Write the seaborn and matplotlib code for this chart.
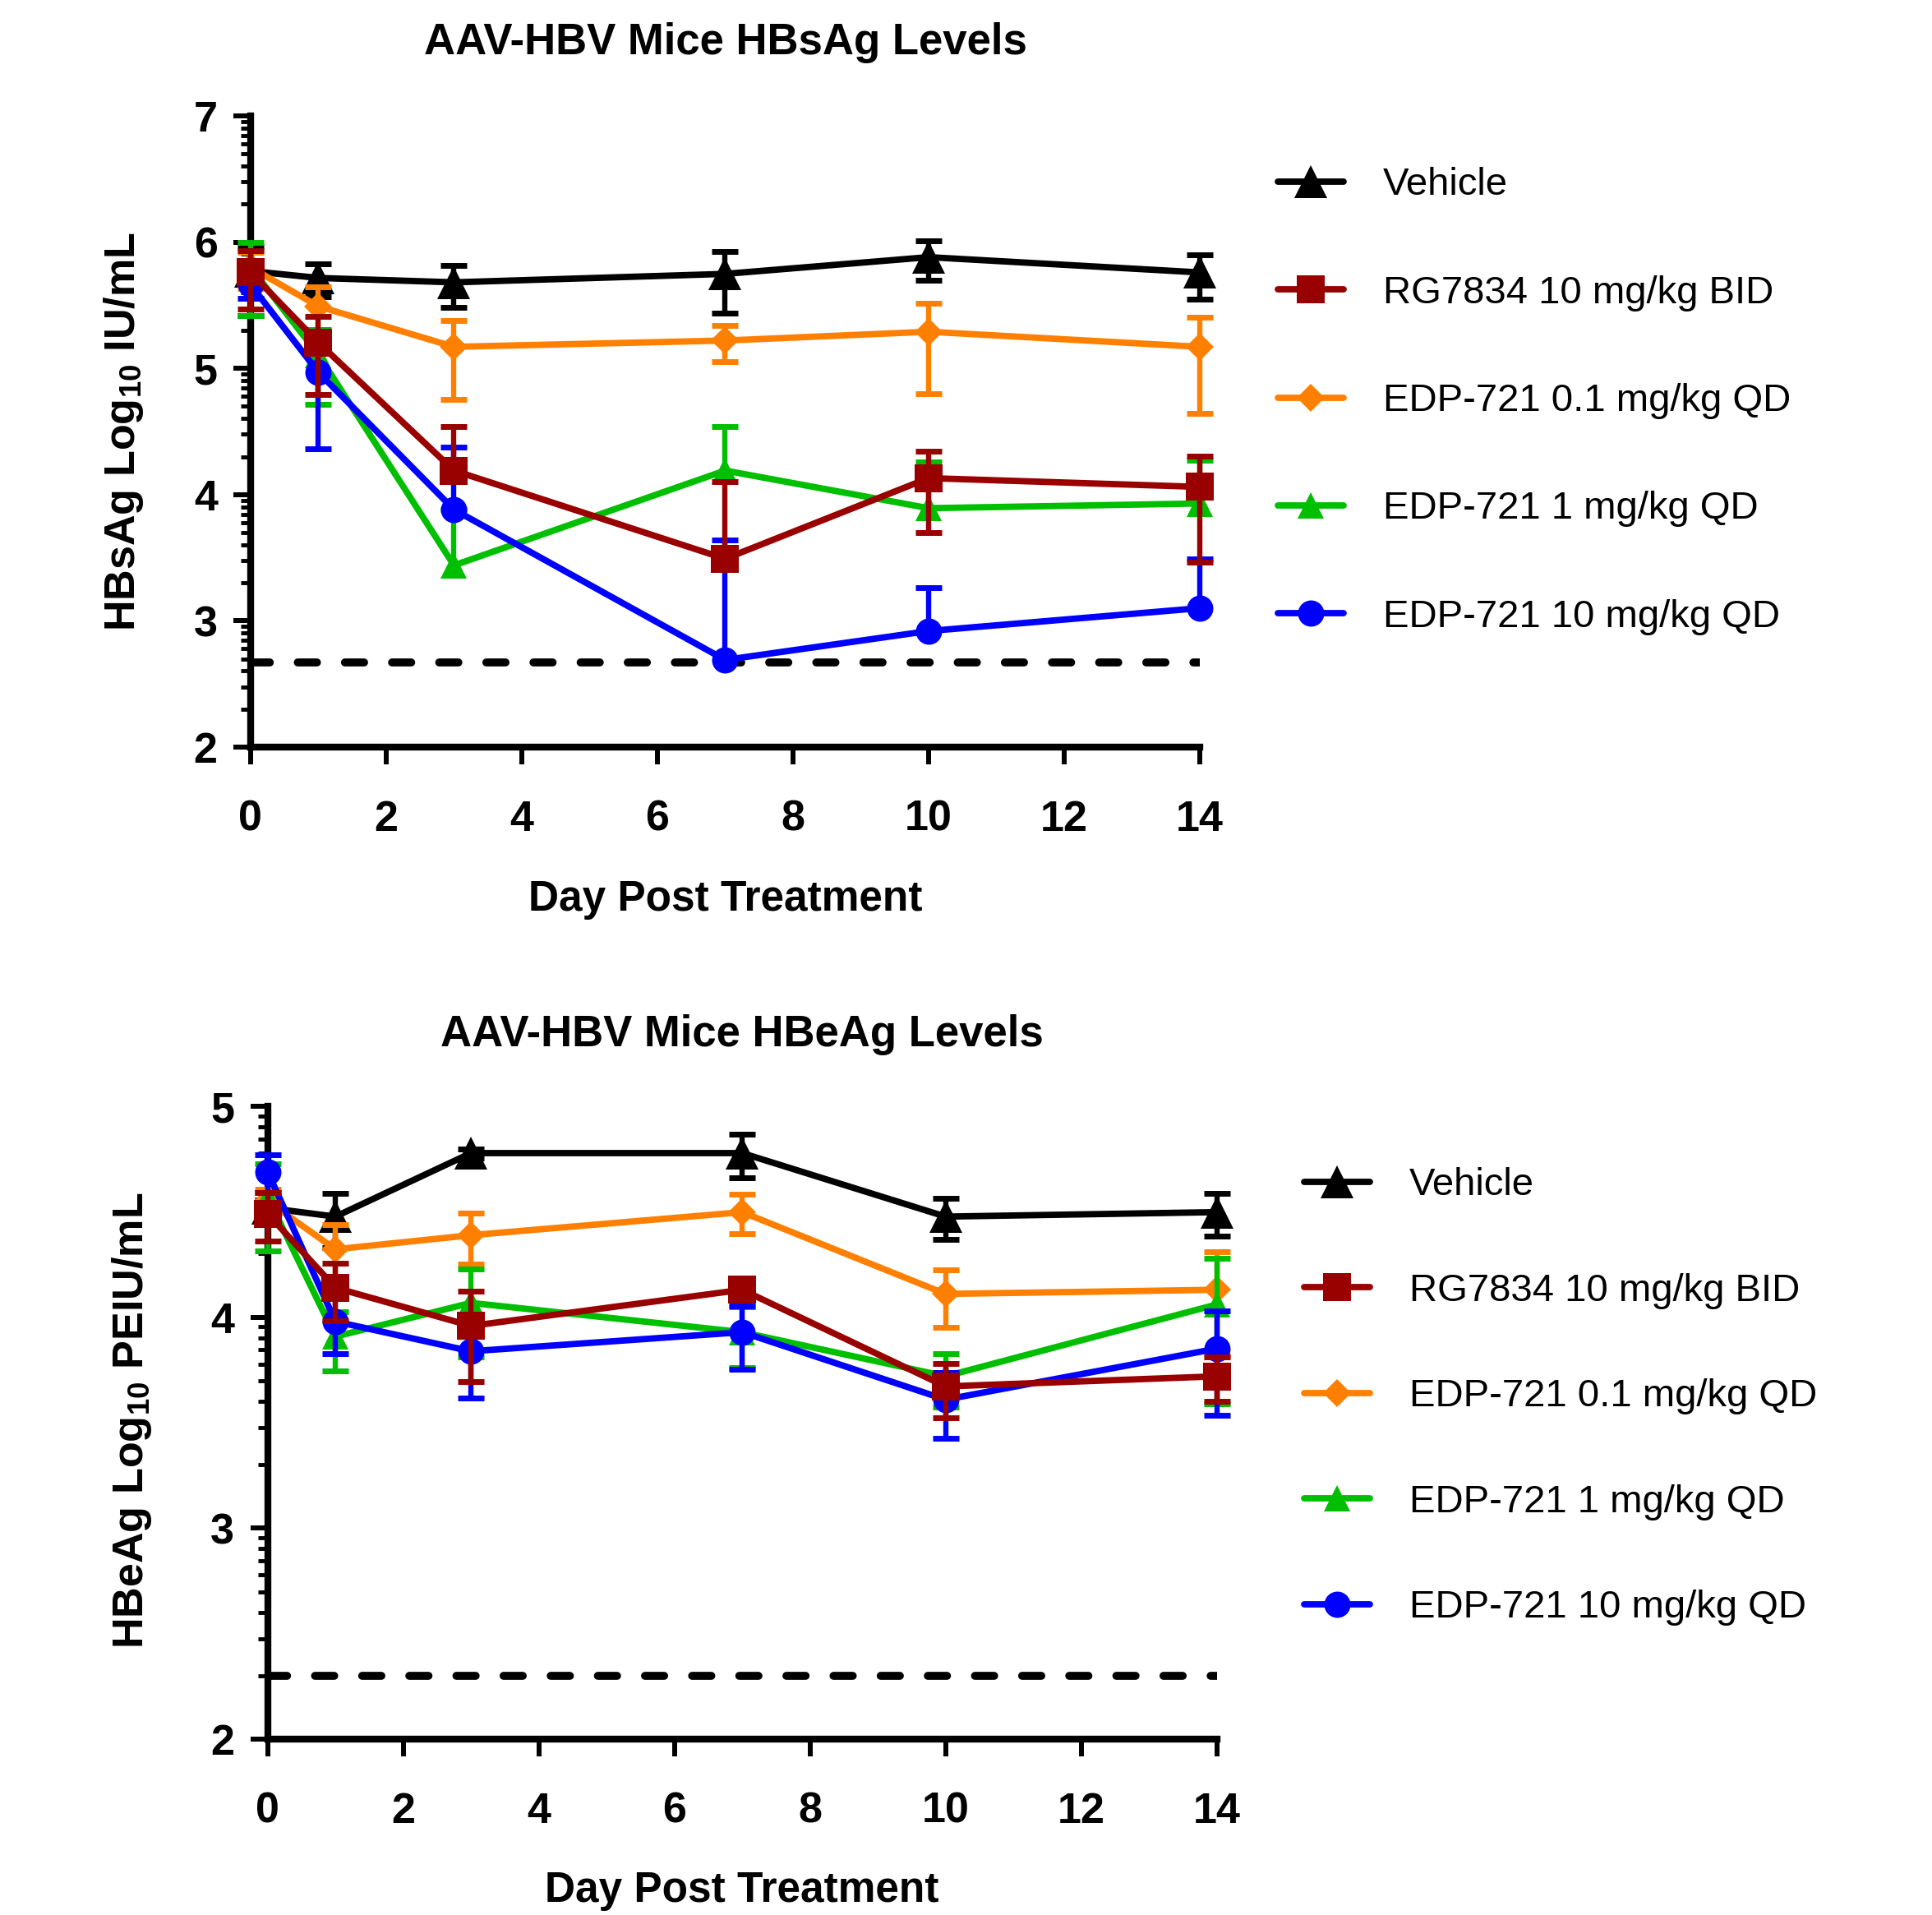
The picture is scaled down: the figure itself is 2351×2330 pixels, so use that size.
import numpy as np
import matplotlib
matplotlib.use("Agg")
import matplotlib.pyplot as plt
import seaborn as sns
from matplotlib.ticker import FixedLocator, LogLocator, FuncFormatter, NullFormatter, NullLocator

# x values (days) and the five treatment groups
days = [0, 1, 3, 7, 10, 14]
groups = ['Vehicle', 'RG7834 10 mg/kg BID', 'EDP-721 0.1 mg/kg QD',
          'EDP-721 1 mg/kg QD', 'EDP-721 10 mg/kg QD']

# HBsAg, IU/mL (mean and SEM, plotted on a log10 axis)
hbsag_vehicle = [5.9e5, 5.2e5, 4.8e5, 5.6e5, 7.6e5, 5.75e5]
hbsag_vehicle_sem = [3.3e5, 1.5e5, 1.75e5, 2.85e5, 2.65e5, 2.2e5]
hbsag_rg7834 = [5.75e5, 1.6e5, 1.55e4, 3.1e3, 1.35e4, 1.15e4]
hbsag_rg7834_sem = [2.8e5, 9.8e4, 1.9e4, 9.5e3, 8.5e3, 8.6e3]
hbsag_edp01 = [6.3e5, 3.1e5, 1.48e5, 1.66e5, 1.95e5, 1.48e5]
hbsag_edp01_sem = [2.0e5, 1.3e5, 9.1e4, 5.35e4, 1.32e5, 1.04e5]
hbsag_edp1 = [6.3e5, 1.28e5, 2.75e3, 1.55e4, 7.8e3, 8.5e3]
hbsag_edp1_sem = [3.7e5, 7.6e4, 4.8e3, 1.9e4, 1.04e4, 1.01e4]
hbsag_edp10 = [4.6e5, 9.3e4, 7.6e3, 490, 830, 1260]
hbsag_edp10_sem = [1.0e5, 7.0e4, 1.6e4, 3.9e3, 990, 1830]
hbsag_lloq = 470

# HBeAg, PEIU/mL
hbeag_vehicle = [3.3e4, 3.0e4, 6.0e4, 6.0e4, 3.0e4, 3.15e4]
hbeag_vehicle_sem = [3.0e3, 8.7e3, 3.0e3, 1.4e4, 6.6e3, 7.3e3]
hbeag_rg7834 = [3.1e4, 1.38e4, 9.1e3, 1.35e4, 4.7e3, 5.25e3]
hbeag_rg7834_sem = [8.0e3, 4.2e3, 4.15e3, 1.0e3, 1.35e3, 1.24e3]
hbeag_edp01 = [3.55e4, 2.1e4, 2.45e4, 3.15e4, 1.29e4, 1.35e4]
hbeag_edp01_sem = [5.0e3, 6.6e3, 6.7e3, 6.7e3, 3.95e3, 6.9e3]
hbeag_edp1 = [3.7e4, 8.1e3, 1.17e4, 8.5e3, 5.25e3, 1.15e4]
hbeag_edp1_sem = [1.64e4, 2.55e3, 5.2e3, 2.75e3, 1.5e3, 7.6e3]
hbeag_edp10 = [4.9e4, 9.55e3, 6.9e3, 8.5e3, 4.07e3, 7.1e3]
hbeag_edp10_sem = [9.9e3, 2.8e3, 2.75e3, 2.85e3, 1.4e3, 3.66e3]
hbeag_lloq = 200

# styles
colors = ['#000000', '#990000', '#FF8000', '#00BF00', '#0000FF']
markers = ['^', 's', 'D', '^', 'o']
msizes = [29, 24, 17, 23, 23]
zorders = [3.0, 3.8, 3.2, 3.4, 3.6]

sns.set_style('ticks', rc={'axes.edgecolor': 'black', 'xtick.color': 'black',
                           'ytick.color': 'black', 'text.color': 'black',
                           'axes.labelcolor': 'black'})
plt.rcParams['font.family'] = ['Liberation Sans', 'DejaVu Sans']
plt.rcParams['font.weight'] = 'bold'
plt.rcParams['mathtext.fontset'] = 'custom'
plt.rcParams['mathtext.rm'] = 'Liberation Sans:bold'
plt.rcParams['mathtext.bf'] = 'Liberation Sans:bold'
plt.rcParams['mathtext.default'] = 'rm'

fig = plt.figure(figsize=(23.51, 23.30), dpi=100)
ax1 = fig.add_axes([0.1297, 0.6099, 0.4913, 0.3296])
ax2 = fig.add_axes([0.1385, 0.0918, 0.4913, 0.3305])


def draw_panel(ax, means, sems, lloq, ylo, yhi):
    ax.set_yscale('log')
    for i, g in enumerate(groups):
        m = np.array(means[i], dtype=float)
        s = np.array(sems[i], dtype=float)
        x = np.array(days)
        ok = (m - s) > 0
        hi = m + s
        lo = np.where(ok, m - s, m)
        z = zorders[i]
        # error bars (lower part dropped where it would go below zero)
        ax.vlines(x, lo, hi, colors=colors[i], lw=4.6, zorder=z, clip_on=False)
        ax.plot(x, hi, ls='none', marker='_', ms=23, mew=5, color=colors[i],
                zorder=z, clip_on=False)
        ax.plot(x[ok], lo[ok], ls='none', marker='_', ms=23, mew=5,
                color=colors[i], zorder=z, clip_on=False)
        sns.lineplot(x=x, y=m, color=colors[i], marker=markers[i],
                     markersize=msizes[i], mew=0, lw=5.6, label=g, errorbar=None,
                     zorder=z + 0.05, clip_on=False, legend=False, ax=ax)
    ax.axhline(lloq, color='black', lw=7, ls=(0, (2.4, 3.5)),
               dash_capstyle='round', zorder=2.8)

    ax.set_xlim(0, 14)
    ax.set_ylim(10 ** ylo, 10 ** yhi)
    ax.xaxis.set_major_locator(FixedLocator(range(0, 15, 2)))
    ax.xaxis.set_minor_locator(NullLocator())
    ax.yaxis.set_major_locator(FixedLocator([10.0 ** k for k in range(ylo, yhi + 1)]))
    ax.yaxis.set_major_formatter(FuncFormatter(lambda v, p: f"{int(round(np.log10(v)))}"))
    ax.yaxis.set_minor_locator(LogLocator(base=10, subs=np.arange(2, 10), numticks=50))
    ax.yaxis.set_minor_formatter(NullFormatter())

    sns.despine(ax=ax)
    for side in ['left', 'bottom']:
        ax.spines[side].set_linewidth(6)
    ax.tick_params(axis='both', which='major', length=15, width=4.3,
                   labelsize=37.5, direction='out')
    ax.tick_params(axis='x', which='major', pad=31)
    ax.tick_params(axis='y', which='major', pad=14)
    ax.tick_params(axis='y', which='minor', length=9, width=3.5, direction='out')


draw_panel(ax1,
           [hbsag_vehicle, hbsag_rg7834, hbsag_edp01, hbsag_edp1, hbsag_edp10],
           [hbsag_vehicle_sem, hbsag_rg7834_sem, hbsag_edp01_sem, hbsag_edp1_sem, hbsag_edp10_sem],
           hbsag_lloq, 2, 7)
draw_panel(ax2,
           [hbeag_vehicle, hbeag_rg7834, hbeag_edp01, hbeag_edp1, hbeag_edp10],
           [hbeag_vehicle_sem, hbeag_rg7834_sem, hbeag_edp01_sem, hbeag_edp1_sem, hbeag_edp10_sem],
           hbeag_lloq, 2, 5)

# titles and axis labels
ax1.set_title('AAV-HBV Mice HBsAg Levels', fontsize=38, fontweight='bold', y=1.1055, va='center')
ax2.set_title('AAV-HBV Mice HBeAg Levels', fontsize=38, fontweight='bold', y=1.1026, va='center')
ax1.set_xlabel('Day Post Treatment', fontsize=37, fontweight='bold', va='center')
ax2.set_xlabel('Day Post Treatment', fontsize=37, fontweight='bold', va='center')
ax1.xaxis.set_label_coords(0.5, -0.242)
ax2.xaxis.set_label_coords(0.5, -0.239)
ax1.set_ylabel('HBsAg Log$_{10}$ IU/mL', fontsize=37.5, fontweight='bold', va='center')
ax2.set_ylabel('HBeAg Log$_{10}$ PEIU/mL', fontsize=37.5, fontweight='bold', va='center')
ax1.yaxis.set_label_coords(-0.134, 0.5)
ax2.yaxis.set_label_coords(-0.143, 0.504)

# legends to the right of each panel
for ax, anchor, spacing in [(ax1, (0.6614, 0.9127), 1.85), (ax2, (0.675, 0.3904), 1.79)]:
    handles, labels = ax.get_legend_handles_labels()
    ax.legend(handles, labels, loc='upper left', bbox_to_anchor=anchor,
              bbox_transform=fig.transFigure, frameon=False,
              prop={'weight': 'normal', 'size': 34}, handlelength=1.69,
              handletextpad=1.02, labelspacing=spacing, borderpad=0,
              borderaxespad=0, numpoints=1)

fig.savefig('out.png', dpi=100)
